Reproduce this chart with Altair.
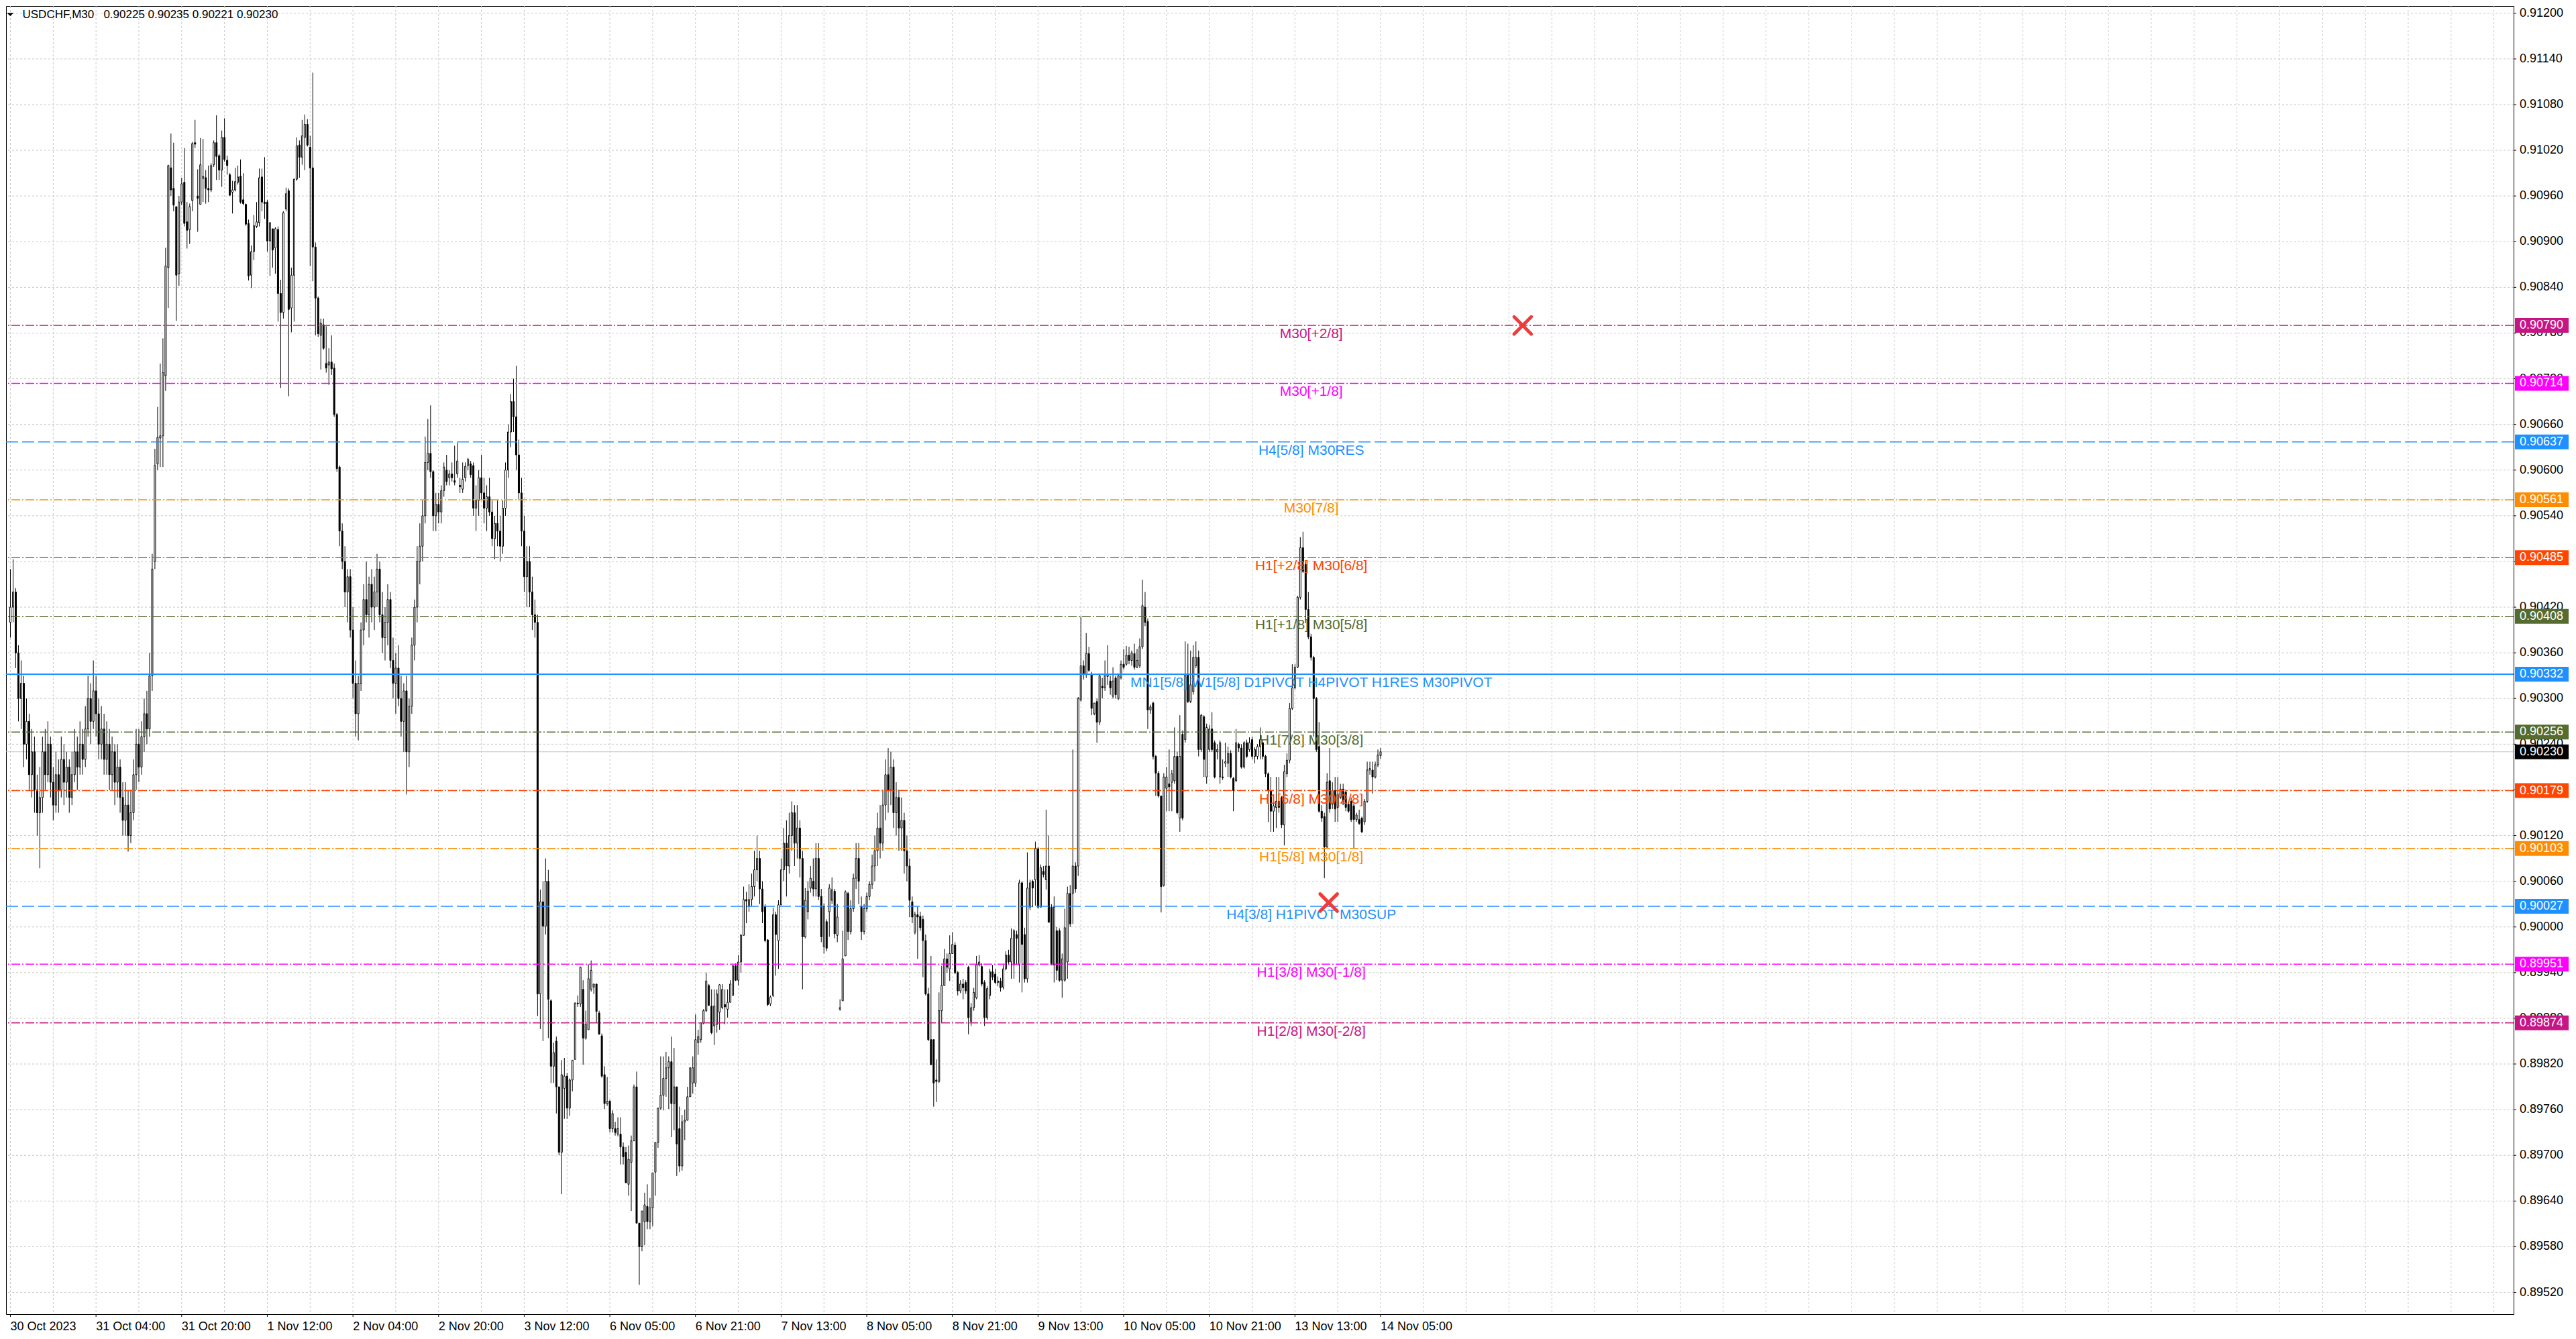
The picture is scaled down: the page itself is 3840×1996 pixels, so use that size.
import altair as alt
import pandas as pd

# ---------------- data (prices x 1e5) ----------------
OPEN = [
    90400,90420,90440,90360,90300,90320,90240,90270,90200,90230,
    90180,90150,90170,90230,90200,90240,90190,90160,90200,90180,
    90220,90190,90210,90170,90200,90230,90210,90240,90220,90260,
    90300,90270,90310,90280,90240,90260,90220,90240,90200,90230,
    90190,90210,90170,90140,90160,90120,90150,90200,90240,90210,
    90250,90280,90260,90330,90480,90608,90642,90645,90724,90866,
    90997,90970,90946,90858,90952,90978,90926,90916,90954,91030,
    90960,90949,90983,90984,90970,90968,91001,91030,91013,90994,
    91037,91007,90988,90965,90968,90978,90986,90955,90949,90924,
    90856,90887,90920,90925,90985,90952,90952,90901,90917,90892,
    90916,90832,90807,90943,90967,90813,90856,90982,91027,91011,
    91037,91054,91024,90997,90893,90826,90777,90791,90740,90738,
    90742,90734,90673,90604,90520,90480,90440,90460,90390,90320,
    90280,90320,90390,90430,90410,90450,90420,90440,90470,90410,
    90380,90400,90430,90350,90320,90340,90300,90270,90310,90230,
    90290,90370,90420,90480,90500,90540,90610,90622,90598,90540,
    90555,90545,90573,90600,90590,90595,90586,90595,90580,90575,
    90590,90606,90608,90606,90550,90560,90590,90570,90550,90565,
    90545,90510,90530,90520,90500,90550,90600,90650,90690,90670,
    90620,90570,90520,90460,90480,90440,90410,90400,89912,90033,
    90001,90060,89903,89817,89850,89790,89704,89788,89804,89762,
    89799,89826,89900,89899,89918,89854,89865,89918,89921,89925,
    89887,89857,89806,89768,89771,89735,89735,89728,89728,89711,
    89704,89662,89691,89719,89790,89611,89580,89613,89633,89613,
    89631,89678,89717,89762,89779,89801,89815,89823,89768,89790,
    89735,89686,89744,89746,89777,89795,89795,89848,89852,89874,
    89890,89923,89896,89870,89872,89888,89894,89898,89892,89901,
    89910,89949,89930,89954,89989,90036,90027,90036,90053,90075,
    90090,90050,90027,89983,89899,89910,90016,89982,90029,90075,
    90110,90080,90120,90150,90110,90130,90090,89987,90020,90051,
    90060,90050,90090,90040,89974,90007,90020,90035,90047,89989,
    89892,89903,89962,90044,89994,90024,90064,90090,90027,89994,
    90024,90040,90056,90080,90100,90130,90110,90160,90200,90180,
    90210,90150,90170,90130,90140,90100,90080,90033,89993,90016,
    90014,90010,89982,89912,89852,89852,89799,89797,89890,89923,
    89958,89945,89965,89976,89940,89916,89925,89927,89947,89876,
    89894,89907,89950,89948,89927,89881,89910,89941,89938,89927,
    89929,89921,89945,89963,89954,89950,89990,89950,90058,89990,
    89932,90026,90060,90062,90103,90026,90073,90062,90080,90026,
    89950,89995,89995,89930,89930,89954,90044,90044,90080,90080,
    90298,90343,90332,90359,90332,90280,90296,90269,90316,90314,
    90329,90323,90303,90327,90300,90327,90345,90345,90357,90350,
    90359,90341,90343,90368,90420,90401,90285,90294,90224,90202,
    90172,90055,90182,90188,90190,90192,90224,90143,90253,90246,
    90332,90296,90309,90343,90354,90233,90276,90197,90233,90260,
    90242,90230,90197,90197,90215,90215,90228,90195,90192,90240,
    90235,90210,90242,90233,90246,90224,90224,90237,90242,90224,
    90201,90179,90152,90157,90165,90170,90134,90201,90219,90287,
    90314,90341,90433,90498,90476,90417,90381,90354,90300,90237,
    90152,90145,90105,90192,90161,90179,90157,90170,90181,90177,
    90161,90165,90159,90141,90141,90143,90138,90165,90206,90206,
    90197,90213,90225,
]
HIGH = [
    90470,90483,90445,90370,90350,90330,90300,90280,90260,90250,
    90200,90210,90250,90260,90270,90250,90210,90230,90220,90250,
    90240,90230,90220,90230,90260,90250,90270,90260,90290,90330,
    90320,90350,90330,90300,90290,90280,90270,90260,90250,90240,
    90240,90220,90190,90190,90180,90180,90220,90260,90260,90270,
    90300,90310,90360,90490,90628,90683,90740,90773,90892,91001,
    91042,91030,90946,90960,90984,91023,90952,90950,91031,91060,
    90995,91036,91035,90994,91000,91003,91033,91066,91015,91046,
    91062,91013,90990,90980,90997,91000,91008,90990,90950,90929,
    90895,90935,90952,90996,90996,91011,90955,90925,90917,90919,
    90920,90850,90940,90971,90970,90866,90983,91037,91033,91060,
    91067,91061,91039,91122,90899,90828,90799,90799,90789,90760,
    90777,90740,90675,90606,90530,90500,90470,90470,90420,90350,
    90330,90400,90450,90480,90460,90470,90460,90490,90480,90440,
    90420,90450,90440,90380,90360,90370,90330,90320,90330,90300,
    90380,90430,90500,90530,90560,90644,90667,90685,90600,90570,
    90570,90580,90610,90620,90600,90610,90632,90636,90590,90610,
    90610,90616,90612,90610,90580,90600,90620,90590,90580,90590,
    90560,90540,90560,90540,90560,90610,90660,90700,90720,90737,
    90640,90590,90540,90500,90500,90460,90430,90410,90049,90060,
    90090,90075,89905,89848,89856,89790,89825,89828,89808,89801,
    89825,89901,89910,89948,89930,89890,89951,89956,89925,89925,
    89890,89860,89817,89803,89773,89759,89744,89750,89750,89717,
    89711,89713,89726,89793,89810,89611,89627,89651,89662,89644,
    89677,89717,89762,89830,89830,89836,89830,89856,89841,89790,
    89764,89753,89760,89790,89815,89830,89885,89865,89874,89892,
    89940,89925,89918,89918,89918,89925,89925,89918,89918,89930,
    89949,89952,89963,89991,90053,90046,90056,90070,90100,90120,
    90100,90060,90030,89984,89910,90025,90020,90035,90090,90130,
    90140,90150,90165,90160,90160,90140,90100,90051,90060,90080,
    90090,90110,90110,90050,90031,90010,90056,90065,90050,90030,
    89905,89995,90048,90046,90035,90070,90110,90110,90040,90030,
    90045,90060,90095,90120,90150,90160,90180,90220,90235,90230,
    90220,90190,90180,90170,90150,90120,90090,90040,90020,90027,
    90020,90015,89990,89920,89962,89852,89826,89914,89949,89971,
    89965,89989,89993,89980,89942,89930,89932,89930,89949,89900,
    89920,89962,89963,89952,89930,89922,89945,89950,89945,89935,
    89933,89950,89968,89970,89998,89997,89995,90062,90060,89999,
    90098,90062,90062,90112,90105,90082,90080,90154,90120,90030,
    90040,90000,89998,89965,90024,90053,90055,90233,90085,90302,
    90408,90350,90386,90368,90335,90294,90300,90333,90327,90350,
    90370,90330,90341,90330,90333,90350,90365,90369,90368,90363,
    90372,90365,90379,90456,90440,90405,90292,90296,90226,90205,
    90172,90202,90210,90233,90206,90262,90230,90278,90258,90375,
    90372,90363,90370,90375,90363,90280,90278,90267,90265,90282,
    90245,90240,90245,90220,90242,90237,90232,90197,90260,90242,
    90240,90244,90246,90249,90250,90236,90240,90262,90246,90226,
    90203,90197,90165,90197,90197,90172,90213,90228,90294,90345,
    90345,90435,90512,90519,90480,90440,90385,90356,90302,90269,
    90160,90150,90202,90235,90190,90197,90197,90188,90188,90180,
    90165,90170,90162,90150,90154,90145,90168,90217,90217,90217,
    90217,90233,90235,
]
LOW = [
    90380,90400,90340,90270,90260,90210,90220,90180,90170,90150,
    90120,90077,90150,90180,90190,90170,90140,90150,90150,90170,
    90160,90170,90150,90160,90190,90180,90200,90200,90210,90250,
    90240,90260,90250,90220,90220,90200,90200,90180,90180,90160,
    90170,90150,90120,90120,90099,90110,90140,90180,90190,90200,
    90230,90240,90250,90310,90470,90600,90604,90604,90704,90813,
    90960,90940,90796,90842,90948,90920,90891,90897,90940,91023,
    90913,90949,90952,90950,90952,90965,90998,90981,90981,90972,
    91005,90988,90960,90937,90966,90975,90950,90948,90921,90849,
    90839,90876,90918,90920,90940,90930,90887,90855,90866,90858,
    90795,90708,90799,90940,90697,90781,90795,90980,90984,91001,
    90994,91025,90868,90848,90777,90775,90732,90758,90728,90712,
    90725,90670,90598,90500,90470,90420,90400,90380,90300,90250,
    90245,90310,90370,90400,90380,90400,90390,90420,90400,90360,
    90350,90370,90340,90300,90280,90290,90250,90230,90174,90210,
    90280,90350,90400,90450,90480,90530,90600,90590,90520,90520,
    90530,90530,90565,90580,90580,90585,90580,90590,90570,90570,
    90585,90600,90590,90540,90520,90540,90560,90530,90520,90540,
    90500,90483,90500,90480,90490,90540,90590,90630,90650,90600,
    90560,90500,90440,90420,90420,90390,90380,89883,89866,89850,
    89990,89854,89795,89795,89755,89700,89649,89748,89748,89752,
    89784,89826,89895,89895,89819,89852,89865,89915,89912,89874,
    89859,89802,89761,89765,89730,89730,89726,89725,89688,89688,
    89664,89647,89627,89719,89611,89530,89574,89582,89603,89603,
    89607,89647,89710,89760,89759,89777,89761,89724,89733,89673,
    89678,89680,89720,89746,89777,89781,89790,89832,89848,89872,
    89888,89896,89859,89845,89861,89865,89892,89872,89881,89901,
    89910,89929,89923,89940,89989,90005,90020,90027,90040,90060,
    90030,90005,89980,89896,89896,89908,89936,89945,90029,90060,
    90040,90070,90100,90080,90090,90065,89918,89985,90010,90045,
    90040,90040,90035,89980,89965,89968,89987,90030,89985,89980,
    89890,89903,89962,89983,89990,90020,90050,90030,89983,89990,
    90020,90035,90050,90060,90080,90090,90100,90140,90150,90160,
    90130,90120,90100,90100,90070,90060,90013,90005,89990,89958,
    89995,89934,89910,89850,89819,89764,89770,89795,89874,89923,
    89940,89929,89965,89938,89910,89913,89905,89912,89859,89870,
    89890,89905,89948,89922,89870,89878,89905,89930,89925,89922,
    89915,89918,89943,89950,89932,89932,89950,89927,89914,89927,
    89927,90022,90026,90028,90024,90026,90065,90049,90006,89950,
    89927,89930,89928,89907,89928,89932,90000,90004,90045,90067,
    90296,90325,90327,90335,90278,90278,90242,90265,90300,90310,
    90318,90305,90300,90300,90298,90325,90338,90343,90345,90343,
    90338,90340,90340,90365,90395,90260,90280,90220,90172,90170,
    90019,90053,90152,90152,90152,90188,90148,90125,90140,90242,
    90294,90294,90305,90340,90224,90230,90197,90188,90230,90230,
    90195,90220,90188,90193,90210,90197,90195,90152,90190,90230,
    90208,90208,90222,90230,90220,90215,90220,90220,90220,90197,
    90138,90125,90125,90130,90150,90130,90107,90197,90215,90285,
    90312,90340,90430,90465,90399,90378,90350,90250,90230,90150,
    90138,90064,90103,90150,90155,90138,90138,90168,90160,90152,
    90150,90138,90103,90138,90134,90123,90134,90163,90200,90175,
    90195,90210,90221,
]
CLOSE = [
    90420,90440,90360,90300,90320,90240,90270,90200,90230,90180,
    90150,90170,90230,90200,90240,90190,90160,90200,90180,90220,
    90190,90210,90170,90200,90230,90210,90240,90220,90260,90300,
    90270,90310,90280,90240,90260,90220,90240,90200,90230,90190,
    90210,90170,90140,90160,90120,90150,90200,90240,90210,90250,
    90280,90260,90330,90470,90606,90643,90645,90728,90868,91000,
    90968,90948,90856,90952,90976,90924,90915,90946,91029,91028,
    90957,91001,90986,90970,90968,91000,91030,91012,90994,91037,
    91008,91000,90961,90968,90979,90985,90952,90950,90923,90855,
    90887,90921,90926,90984,90952,90950,90901,90925,90889,90917,
    90832,90807,90938,90963,90811,90856,90982,91026,91011,91039,
    91054,91027,90997,90893,90826,90779,90793,90760,90734,90742,
    90733,90673,90602,90520,90480,90440,90460,90390,90320,90280,
    90320,90390,90430,90410,90450,90420,90440,90470,90410,90380,
    90400,90430,90350,90320,90340,90300,90270,90310,90230,90290,
    90370,90420,90480,90500,90540,90610,90622,90598,90540,90555,
    90545,90573,90604,90585,90595,90590,90584,90612,90578,90588,
    90605,90614,90594,90550,90560,90590,90570,90550,90565,90545,
    90510,90530,90520,90500,90550,90600,90650,90690,90670,90620,
    90570,90520,90460,90480,90440,90410,90400,89912,90033,90001,
    90060,89905,89817,89835,89790,89704,89806,89804,89762,89799,
    89825,89900,89899,89947,89854,89872,89932,89943,89925,89889,
    89859,89804,89768,89771,89735,89755,89730,89735,89711,89698,
    89664,89695,89719,89790,89611,89580,89627,89635,89613,89631,
    89677,89717,89762,89779,89801,89815,89823,89768,89790,89715,
    89686,89744,89746,89777,89815,89815,89852,89856,89874,89890,
    89929,89897,89861,89896,89912,89924,89918,89895,89901,89925,
    89949,89930,89954,89989,90036,90034,90036,90053,90075,90090,
    90050,90020,89982,89898,89908,90016,89990,90029,90075,90110,
    90080,90120,90150,90110,90130,90090,89987,90035,90047,90064,
    90050,90090,90040,89987,90027,89972,90051,90049,89991,90013,
    89894,89958,90046,89994,90024,90064,90090,90060,89994,90024,
    90040,90056,90080,90100,90130,90110,90160,90200,90180,90210,
    90150,90170,90130,90140,90100,90080,90035,90013,90016,90013,
    89999,89982,89912,89852,89819,89795,89797,89890,89923,89958,
    89947,89965,89977,89940,89916,89925,89920,89916,89881,89894,
    89914,89950,89954,89925,89881,89919,89941,89934,89927,89929,
    89920,89945,89963,89954,89985,89995,89985,90058,89977,89932,
    90051,90058,90051,90103,90026,90078,90069,90080,90006,89950,
    90026,89943,89930,89958,89999,90044,90004,90080,90050,90300,
    90343,90332,90359,90337,90287,90294,90269,90330,90314,90332,
    90332,90314,90323,90305,90330,90345,90341,90357,90350,90360,
    90341,90350,90368,90422,90400,90285,90289,90224,90202,90172,
    90053,90197,90197,90184,90201,90224,90150,90224,90143,90332,
    90296,90318,90354,90354,90233,90278,90220,90262,90260,90233,
    90197,90233,90242,90196,90217,90228,90197,90179,90242,90235,
    90210,90242,90224,90242,90224,90233,90237,90246,90224,90201,
    90179,90152,90159,90165,90157,90134,90204,90219,90287,90314,
    90341,90433,90498,90467,90417,90381,90354,90300,90233,90152,
    90143,90105,90190,90155,90179,90155,90174,90181,90165,90157,
    90152,90141,90141,90147,90136,90125,90165,90206,90208,90197,
    90213,90226,90230,
]

TIME_LABELS = ["30 Oct 2023", "31 Oct 04:00", "31 Oct 20:00", "1 Nov 12:00", "2 Nov 04:00",
               "2 Nov 20:00", "3 Nov 12:00", "6 Nov 05:00", "6 Nov 21:00", "7 Nov 13:00",
               "8 Nov 05:00", "8 Nov 21:00", "9 Nov 13:00", "10 Nov 05:00", "10 Nov 21:00",
               "13 Nov 13:00", "14 Nov 05:00"]
BARS_PER_LABEL = 32
BARS_PER_GRID = 16

PRICE_TICKS = [0.89520, 0.89580, 0.89640, 0.89700, 0.89760, 0.89820, 0.89880, 0.89940,
               0.90000, 0.90060, 0.90120, 0.90180, 0.90240, 0.90300, 0.90360, 0.90420,
               0.90480, 0.90540, 0.90600, 0.90660, 0.90720, 0.90780, 0.90840, 0.90900,
               0.90960, 0.91020, 0.91080, 0.91140, 0.91200]

LEVEL_PRICES = [0.90790, 0.90714, 0.90637, 0.90561, 0.90485, 0.90408, 0.90332,
                0.90256, 0.90179, 0.90103, 0.90027, 0.89951, 0.89874]
LEVEL_NAMES = ["M30[+2/8]", "M30[+1/8]", "H4[5/8] M30RES", "M30[7/8]",
               "H1[+2/8] M30[6/8]", "H1[+1/8] M30[5/8]",
               "MN1[5/8] W1[5/8] D1PIVOT H4PIVOT H1RES M30PIVOT",
               "H1[7/8] M30[3/8]", "H1[6/8] M30[2/8]", "H1[5/8] M30[1/8]",
               "H4[3/8] H1PIVOT M30SUP", "H1[3/8] M30[-1/8]", "H1[2/8] M30[-2/8]"]
LEVEL_COLORS = ["#C71585", "#FF00FF", "#1E90FF", "#FF8C00", "#FF4500", "#556B2F",
                "#1E90FF", "#556B2F", "#FF4500", "#FF8C00", "#1E90FF", "#FF00FF", "#C71585"]
LEVEL_STYLES = ["dashdot", "dashdot", "dash", "dashdot", "dashdot", "dashdot", "solid",
                "dashdot", "dashdot", "dashdot", "dash", "dashdot", "dashdot"]

XMARK_BARS = [565.1, 492.6]
XMARK_PRICES = [0.90790, 0.90032]
SYMBOL = "USDCHF,M30"

# ---------------- layout ----------------
W, H = 3738, 1950
FONT = "Liberation Sans"
LABEL_BAR = 486.1
X0 = -0.375
xs = alt.Scale(domain=[X0, X0 + W / 4.0], nice=False, zero=False)
YLO, YHI = 0.894914, 0.912095
ys = alt.Scale(domain=[YLO, YHI], nice=False, zero=False)

candles = pd.DataFrame({
    "bar": list(range(len(CLOSE))),
    "open": [v / 1e5 for v in OPEN],
    "high": [v / 1e5 for v in HIGH],
    "low": [v / 1e5 for v in LOW],
    "close": [v / 1e5 for v in CLOSE],
})
candles["fill"] = ["#FFFFFF" if c >= o else "#000000" for o, c in zip(OPEN, CLOSE)]

levels = pd.DataFrame({"price": LEVEL_PRICES, "name": LEVEL_NAMES,
                       "color": LEVEL_COLORS, "style": LEVEL_STYLES})
levels["lx"] = LABEL_BAR

cur = CLOSE[-1] / 1e5
half = 11 / (H / (YHI - YLO))
badges = pd.DataFrame({"price": LEVEL_PRICES + [cur], "color": LEVEL_COLORS + ["#000000"]})
badges["label"] = ["%.5f" % p for p in badges["price"]]
badges["lo"] = badges["price"] - half
badges["hi"] = badges["price"] + half

yticks = pd.DataFrame({"price": PRICE_TICKS})
yticks["label"] = ["%.5f" % p for p in PRICE_TICKS]
xticks = pd.DataFrame({"bar": [i * BARS_PER_LABEL for i in range(len(TIME_LABELS))],
                       "label": TIME_LABELS})
vgrid_df = pd.DataFrame({"x": list(range(0, 933, BARS_PER_GRID))})

X = lambda f: alt.X(f, scale=xs, axis=None)
Y = lambda f: alt.Y(f, scale=ys, axis=None)
GRID = "#C8C8C8"

hgrid = alt.Chart(yticks).mark_rule(color=GRID, strokeDash=[3, 3], strokeWidth=1).encode(
    y=Y("price:Q"))
vgrid = alt.Chart(vgrid_df).mark_rule(color=GRID, strokeDash=[3, 3], strokeWidth=1).encode(
    x=X("x:Q"))

price_line = alt.Chart(pd.DataFrame({"p": [cur]})).mark_rule(color="#C0C0C0", strokeWidth=1).encode(
    y=Y("p:Q"))

wicks = alt.Chart(candles).mark_rule(color="black", strokeWidth=1).encode(
    x=X("bar:Q"), y=Y("low:Q"), y2="high:Q")

bodies = alt.Chart(candles).mark_bar(size=2, stroke="black", strokeWidth=1, orient="vertical").encode(
    x=X("bar:Q"), y=Y("open:Q"), y2="close:Q",
    fill=alt.Fill("fill:N", scale=None))


def level_lines(style, dash, width):
    base = alt.Chart(levels).transform_filter(alt.datum.style == style)
    m = base.mark_rule(strokeDash=dash, strokeWidth=width) if dash else base.mark_rule(strokeWidth=width)
    return m.encode(y=Y("price:Q"), color=alt.Color("color:N", scale=None))


lines_dd = level_lines("dashdot", [13, 3, 2, 3], 1.5)
lines_d = level_lines("dash", [18, 6], 1.5)
lines_s = level_lines("solid", None, 2)

level_text = alt.Chart(levels).mark_text(align="center", baseline="top", dy=2, fontSize=21,
                                         font=FONT).encode(
    x=X("lx:Q"), y=Y("price:Q"), text="name:N", color=alt.Color("color:N", scale=None))

xmarks = alt.Chart(pd.DataFrame({"bar": XMARK_BARS, "price": XMARK_PRICES})).mark_point(
    shape="M-0.8,-0.8L0.8,0.8M0.8,-0.8L-0.8,0.8", size=1024, filled=False,
    color="#EF3B3B", strokeWidth=5, strokeCap="round", opacity=1).encode(
    x=X("bar:Q"), y=Y("price:Q"))

# right price scale
ytick_marks = alt.Chart(yticks).mark_rule(color="black", strokeWidth=1).encode(
    x=alt.value(W), x2=alt.value(W + 4), y=Y("price:Q"))
ytick_text = alt.Chart(yticks).mark_text(align="left", baseline="middle", fontSize=18,
                                         font=FONT, color="black").encode(
    x=alt.value(W + 9), y=Y("price:Q"), text="label:N")

badge_rect = alt.Chart(badges).mark_rect().encode(
    x=alt.value(W + 2), x2=alt.value(W + 82),
    y=Y("lo:Q"), y2="hi:Q", color=alt.Color("color:N", scale=None))
badge_text = alt.Chart(badges).mark_text(align="left", baseline="middle", color="white",
                                         fontSize=18, font=FONT).encode(
    x=alt.value(W + 9), y=Y("price:Q"), text="label:N")

# bottom time scale
xtick_marks = alt.Chart(xticks).mark_rule(color="black", strokeWidth=1).encode(
    x=X("bar:Q"), y=alt.value(H), y2=alt.value(H + 4))
xtick_text = alt.Chart(xticks).mark_text(align="left", baseline="top", fontSize=18,
                                         font=FONT, color="black").encode(
    x=X("bar:Q"), y=alt.value(H + 10), text="label:N")

title_str = SYMBOL + "\u00a0\u00a0\u00a0" + " ".join(
    "%.5f" % (v[-1] / 1e5) for v in (OPEN, HIGH, LOW, CLOSE))
title_df = pd.DataFrame({"t": [title_str]})
title_text = alt.Chart(title_df).mark_text(align="left", baseline="alphabetic", fontSize=17,
                                           font=FONT, color="black").encode(
    x=alt.value(24.5), y=alt.value(18), text="t:N")
tri = alt.Chart(title_df).mark_point(shape="M-1,-0.45L1,-0.45L0,0.5Z", size=100, filled=True,
                                     color="black", opacity=1).encode(
    x=alt.value(6.3), y=alt.value(12.5))

chart = alt.layer(
    hgrid, vgrid, price_line, wicks, bodies, lines_dd, lines_d, lines_s, level_text,
    xmarks, ytick_marks, ytick_text, badge_rect, badge_text, xtick_marks, xtick_text,
    tri, title_text
).properties(
    width=W, height=H, padding={"left": 0, "top": 0, "right": 0, "bottom": 0}
).configure(background="white").configure_view(stroke="black", strokeWidth=1)

chart.save("out.html", embed_options={"renderer": "svg", "actions": False})
